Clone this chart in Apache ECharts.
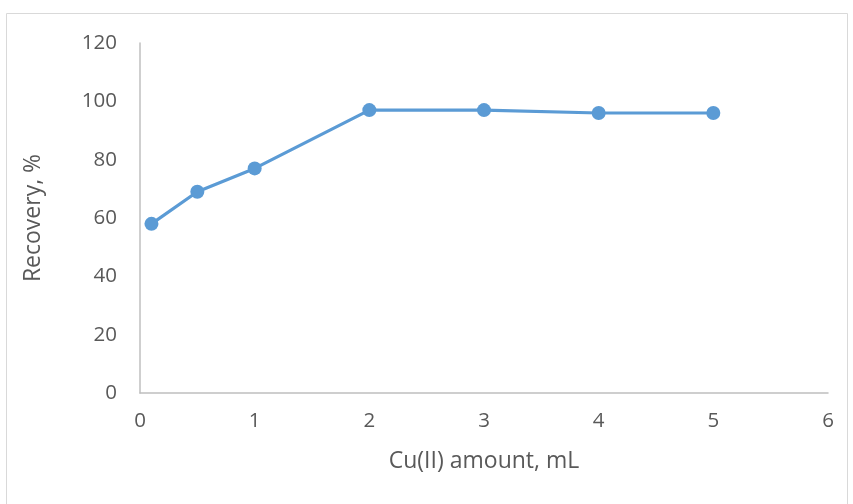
<!DOCTYPE html>
<html><head><meta charset="utf-8">
<script src="https://cdn.jsdelivr.net/npm/echarts@6/dist/echarts.min.js"></script>
<style>html,body{margin:0;padding:0;background:#fff}#c{width:853px;height:504px}</style>
</head><body><div id="c"></div>
<script>
const xValues = [0.1, 0.5, 1, 2, 3, 4, 5];
const recovery = [58, 69, 77, 97, 97, 96, 96];
const xTitle = 'Cu(II) amount, mL';
const yTitle = 'Recovery, %';
const chart = echarts.init(document.getElementById('c'));
const font = '"Open Sans", sans-serif';
chart.setOption({
  animation: false,
  graphic: [{type:'rect', shape:{x:6.5, y:13.5, width:841, height:500}, style:{fill:'none', stroke:'#d9d9d9', lineWidth:1}}],
  grid: {left:140, top:43, right:25, bottom:111},
  xAxis: {type:'value', min:0, max:6, interval:1,
    name: xTitle, nameLocation:'middle', nameGap:57,
    nameTextStyle:{color:'#595959', fontSize:23, fontFamily:font},
    axisLine:{show:true, lineStyle:{color:'#bfbfbf', width:1.5}}, axisTick:{show:false}, splitLine:{show:false},
    axisLabel:{color:'#595959', fontSize:20.5, fontFamily:font, margin:18}},
  yAxis: {type:'value', min:0, max:120, interval:20,
    name: yTitle, nameLocation:'middle', nameGap:95, nameRotate:90,
    nameTextStyle:{color:'#595959', fontSize:23, fontFamily:font},
    axisLine:{show:true, lineStyle:{color:'#bfbfbf', width:1.5}}, axisTick:{show:false}, splitLine:{show:false},
    axisLabel:{color:'#595959', fontSize:20.5, fontFamily:font, margin:23}},
  series: [{type:'line', data: xValues.map((x,i)=>[x, recovery[i]]),
    symbol:'circle', symbolSize:14, lineStyle:{color:'#5b9bd5', width:3.2},
    itemStyle:{color:'#5b9bd5'}}]
});
</script></body></html>
